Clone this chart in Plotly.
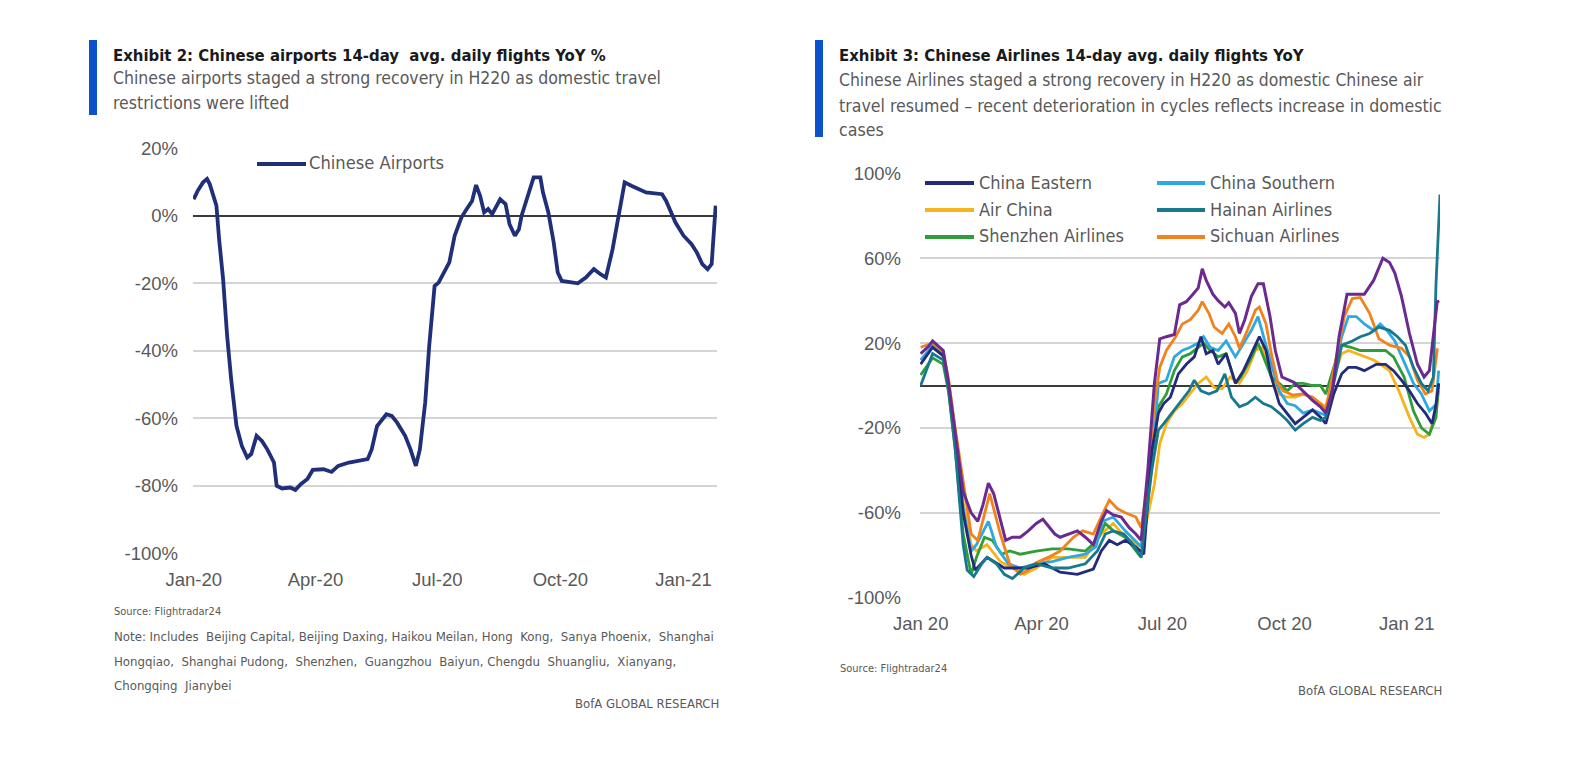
import pandas as pd
import plotly.graph_objects as go

W, H = 1570, 767
OFF = 8  # default page margin around the figure
FW, FH = W - 2 * OFF, H - 2 * OFF
START = pd.Timestamp("2020-01-01")

# ---------------- Exhibit 2 data (day offset from 1 Jan 2020, YoY %) ----------------
airports_days = [0, 3, 7, 10, 12, 14, 17, 19, 22, 25, 28, 32, 36, 40, 43, 47, 51, 55, 60, 62, 66, 72, 76, 80,
                 85, 89, 97, 103, 108, 116, 122, 130, 133, 137, 144, 148, 152, 158, 162, 166, 169, 173, 176,
                 179, 180, 183, 187, 191, 195, 200, 204, 208, 211, 214, 217, 220, 223, 226, 229, 233, 236,
                 240, 243, 245, 250, 254, 259, 261, 265, 269, 272, 275, 280, 287, 293, 299, 304, 308, 313,
                 318, 322, 327, 333, 338, 350, 353, 360, 366, 372, 376, 380, 384, 387, 389, 390]
airports_yoy = [4.9, 7.4, 9.9, 10.9, 9.4, 6.4, 3.0, -6.9, -18.8, -35.6, -48.4, -62.3, -68.2, -71.6, -70.6,
                -65.2, -66.7, -69.2, -73.1, -80.0, -80.8, -80.5, -81.2, -79.5, -78.0, -75.3, -75.1, -75.9,
                -74.1, -73.1, -72.6, -72.1, -69.2, -62.3, -58.8, -59.3, -61.3, -65.2, -69.2, -74.1, -69.2,
                -55.3, -38.5, -25.7, -20.8, -19.8, -16.8, -13.8, -5.9, -0.5, 2.0, 4.4, 9.1, 5.9, 1.0, 2.0,
                0.5, 2.5, 4.9, 3.5, -2.5, -5.9, -4.0, 0.0, 5.9, 11.4, 11.4, 6.9, 1.0, -7.9, -16.8, -19.3,
                -19.6, -20.0, -18.3, -15.8, -17.3, -18.3, -9.9, 1.0, 9.9, 8.9, 7.9, 6.9, 6.4, 4.4, -2.0,
                -5.9, -8.4, -10.9, -14.3, -15.8, -14.3, -4.0, 3.0]

# ---------------- Exhibit 3 data ----------------
eastern_days = [0, 9, 17, 21, 26, 32, 38, 41, 50, 63, 81, 93, 105, 118, 130, 136, 142, 148, 154, 162, 168,
                174, 179, 183, 188, 194, 200, 206, 211, 215, 220, 224, 230, 237, 243, 250, 255, 260, 264,
                270, 276, 282, 288, 295, 301, 305, 311, 317, 322, 328, 334, 343, 350, 356, 362, 368, 374,
                380, 385, 388, 390]
eastern_yoy = [10, 18, 14, 0, -25, -60, -80, -87, -81, -86, -86, -84, -88, -89, -86.5, -78, -73, -75, -73,
               -76, -79.5, -31, -13, -8.5, -5.5, 5.5, 10, 13.5, 23, 15, 16.5, 10, 15, 1, 7, 16.5, 23, 16.5,
               4, -8.5, -13, -18, -15, -11.5, -15, -18, -4, 5.5, 8.5, 8.5, 7, 10, 10, 7, 2.5, -2.5, -8.5,
               -13, -18, -9, 1]

southern_days = [0, 9, 17, 21, 26, 32, 38, 42, 51, 57, 66, 75, 87, 99, 111, 124, 132, 137, 145, 154, 166,
                 176, 179, 185, 191, 197, 203, 209, 213, 218, 224, 230, 237, 243, 249, 254, 258, 264, 270,
                 276, 282, 288, 295, 301, 305, 311, 317, 322, 328, 334, 341, 346, 351, 357, 365, 371, 377,
                 383, 388, 390]
southern_yoy = [12, 19, 15, 2, -22, -58, -78, -75, -64, -76, -84, -86, -84, -83, -81, -79.5, -76, -64, -62,
                -68.5, -76, -23, 1, 2.5, 13.5, 16.5, 18, 20, 23, 18, 16.5, 21, 13.5, 20, 26, 32.5, 23, 10,
                -2.5, -8.5, -9.5, -13, -11.5, -13, -14, 4, 23, 32.5, 32.5, 29, 26, 29, 26, 21, 10, 1, -4,
                -12, -9, 7]

airchina_days = [0, 9, 17, 21, 26, 32, 38, 42, 50, 60, 69, 78, 87, 99, 111, 124, 136, 145, 154, 166, 176,
                 180, 185, 191, 197, 203, 209, 215, 221, 227, 233, 240, 246, 252, 257, 263, 269, 276, 282,
                 288, 295, 301, 305, 311, 317, 322, 328, 334, 341, 346, 353, 360, 368, 374, 379, 383, 388,
                 390]
airchina_yoy = [12, 18, 14, 0, -25, -55, -75, -78, -75, -83, -86, -89, -86, -81, -81, -81, -70, -65, -71.5,
                -76, -46.5, -27.5, -18, -12, -8.5, -4, 1, 4, -1, -1.5, 4, 1, 7, 16.5, 18, 7, -4, -5.5, -5.5,
                -4, -5.5, -8.5, -10, 4, 15, 16.5, 15, 13.5, 12, 10, 7, -2.5, -15, -23, -24.5, -23, -12, -2.5]

hainan_days = [0, 5, 9, 17, 21, 26, 32, 35, 40, 46, 50, 57, 63, 69, 78, 87, 99, 111, 124, 133, 139, 145,
               153, 160, 166, 174, 179, 183, 189, 195, 202, 206, 211, 217, 223, 229, 234, 240, 246, 252,
               258, 264, 270, 276, 282, 288, 295, 301, 305, 311, 317, 325, 331, 338, 345, 353, 359, 365,
               371, 377, 382, 386, 388, 391]
hainan_yoy = [0, 8, 15, 12, -2, -30, -75, -87, -90, -84, -81, -84, -89, -91, -86, -84, -86, -86, -84, -78,
              -70, -68.5, -70, -75, -81, -40, -21, -18, -13, -8.5, -2.5, 2.5, -2.5, -4, -2.5, 5.5, -5.5,
              -10, -8.5, -5.5, -8.5, -10, -13, -16.5, -21, -18, -15, -16.5, -15, 1, 19, 21, 23, 24.5, 27.5,
              26, 23, 19, 8.5, 1, -2.5, 4, 48, 90]

shenzhen_days = [0, 9, 17, 21, 26, 32, 38, 42, 48, 54, 61, 67, 75, 87, 99, 111, 124, 133, 139, 145, 154,
                 166, 174, 179, 185, 191, 197, 203, 209, 213, 218, 224, 230, 237, 241, 248, 254, 258, 264,
                 270, 276, 282, 288, 295, 301, 305, 311, 317, 324, 331, 341, 350, 356, 364, 371, 377, 383,
                 388, 390]
shenzhen_yoy = [5, 13, 10, -3, -30, -70, -89, -81, -71.5, -73, -79.5, -78, -79.5, -78, -77, -77, -78, -73,
                -65, -68.5, -71.5, -81, -38, -10, -4, 7, 13.5, 15, 18, 20, 16.5, 13.5, 15, 1, 4, 12, 20,
                13.5, 4, 1, -2.5, 1, 1, 0, 0, -4, 8.5, 19, 18, 16.5, 16.5, 16.5, 13.5, 4, -12, -20, -23,
                -15, 1]

sichuan_days = [0, 9, 17, 21, 26, 32, 38, 43, 52, 60, 67, 75, 81, 87, 96, 105, 115, 122, 130, 137, 142, 148,
                154, 162, 166, 171, 176, 180, 185, 192, 197, 203, 209, 212, 217, 221, 227, 232, 237, 240,
                246, 252, 255, 260, 264, 269, 273, 280, 287, 295, 301, 305, 313, 319, 325, 331, 338, 345,
                353, 362, 368, 374, 380, 385, 389]
sichuan_yoy = [18, 20, 16, 3, -20, -45, -70, -73, -51, -70, -84, -89, -87, -83.5, -81, -78, -71.5, -68.5,
               -70, -60.5, -54, -58, -60, -62, -67, -46.5, -8.5, 8.5, 16.5, 23, 29, 31, 35.5, 39.5, 34, 27.5,
               24.5, 29, 23, 17.5, 26, 35.5, 37, 29, 15, 1, -2.5, -4.5, -4, -5.5, -8.5, -11.5, 13.5, 32.5,
               41, 41.5, 34, 22, 19, 17.5, 13.5, 2.5, -4, -2.5, 17.5]

other_days = [0, 6, 9, 13, 17, 21, 26, 32, 38, 43, 47, 51, 55, 60, 64, 69, 75, 81, 87, 92, 96, 101, 105, 111,
              118, 124, 130, 136, 140, 145, 151, 157, 162, 166, 171, 176, 180, 185, 191, 195, 200, 205, 209,
              212, 215, 220, 224, 229, 232, 237, 240, 244, 249, 254, 258, 263, 267, 272, 276, 281, 286, 290,
              295, 301, 305, 310, 315, 321, 327, 334, 341, 348, 353, 357, 362, 368, 374, 379, 383, 386, 389,
              390]
other_yoy = [15, 18.5, 21, 18.5, 16.5, 1, -23, -50, -60, -64, -56, -46, -51, -64, -73, -71.5, -71.5, -68.5,
             -65, -63, -66, -70, -71.5, -70, -68.5, -71.5, -75, -64, -59, -61, -62, -67, -70, -73, -40, 1, 22,
             23, 24, 38, 39.5, 43, 46, 55, 49.5, 43, 40, 37, 39, 34, 24.5, 31, 42, 48, 48, 32.5, 16.5, 4, 3,
             1.5, -1.5, -4, -7, -10, -13, -2.5, 23, 43, 43, 43, 49.5, 60, 58, 53, 42, 24.5, 10, 4, 7, 23, 40,
             39]

airline_names = ["China Eastern", "China Southern", "Air China", "Hainan Airlines",
                 "Shenzhen Airlines", "Sichuan Airlines"]
airline_colors = ["#232a7a", "#2ea8e0", "#f6b31c", "#17798b", "#2f9e3a", "#f0831e"]
other_color = "#6b2a8e"

left_ticks = [20, 0, -20, -40, -60, -80, -100]
right_ticks = [100, 60, 20, -20, -60, -100]
tick_dates = ["2020-01-01", "2020-04-01", "2020-07-01", "2020-10-01", "2021-01-01"]
left_tick_text = ["Jan-20", "Apr-20", "Jul-20", "Oct-20", "Jan-21"]
right_tick_text = ["Jan 20", "Apr 20", "Jul 20", "Oct 20", "Jan 21"]


def to_dates(days):
    return [START + pd.Timedelta(days=d) for d in days]


NARROW = "Liberation Sans Narrow, DejaVu Sans Condensed, Arial Narrow, sans-serif"
REG = "Liberation Sans, Arial, sans-serif"
GRAY_TXT = "#595959"

fig = go.Figure()

fig.add_trace(go.Scatter(x=to_dates(airports_days), y=airports_yoy, mode="lines",
                         line=dict(color="#1f2f78", width=3.8), name="Chinese Airports",
                         showlegend=False, xaxis="x", yaxis="y"))

right_series = [
    (airchina_days, airchina_yoy, 2),
    (shenzhen_days, shenzhen_yoy, 4),
    (southern_days, southern_yoy, 1),
    (sichuan_days, sichuan_yoy, 5),
    (eastern_days, eastern_yoy, 0),
    (hainan_days, hainan_yoy, 3),
]
for d, v, i in right_series:
    fig.add_trace(go.Scatter(x=to_dates(d), y=v, mode="lines",
                             line=dict(color=airline_colors[i], width=2.8),
                             name=airline_names[i], showlegend=False, xaxis="x2", yaxis="y2"))
fig.add_trace(go.Scatter(x=to_dates(other_days), y=other_yoy, mode="lines",
                         line=dict(color=other_color, width=3), name="Other",
                         showlegend=False, xaxis="x2", yaxis="y2"))


def px(x):
    return (x - OFF) / FW


def py(y):
    return 1 - (y - OFF) / FH


xrange_ = ["2019-12-31 12:00", "2021-01-26"]
common_x = dict(type="date", range=xrange_, tickvals=tick_dates, showgrid=False, showline=False,
                zeroline=False, ticks="", tickfont=dict(family=REG, size=18.5, color=GRAY_TXT),
                ticklabelstandoff=13, automargin=False)
common_y = dict(showgrid=True, gridcolor="#d4d4d4", gridwidth=1.6, zeroline=True,
                zerolinecolor="#3a3a3a", zerolinewidth=1.6, showline=False, ticks="",
                tickfont=dict(family=REG, size=18.5, color=GRAY_TXT), ticklabelstandoff=14,
                automargin=False)

fig.update_layout(
    width=FW, height=FH, margin=dict(l=0, r=0, t=0, b=0, pad=0, autoexpand=False),
    paper_bgcolor="white", plot_bgcolor="white", showlegend=False,
    xaxis=dict(common_x, domain=[px(193), px(717)], ticktext=left_tick_text, anchor="y"),
    yaxis=dict(common_y, domain=[py(553.3), py(148.3)], range=[-100, 20], tickvals=left_ticks,
               ticktext=[f"{t}%" for t in left_ticks], anchor="x"),
    xaxis2=dict(common_x, domain=[px(920), px(1440)], ticktext=right_tick_text, anchor="y2"),
    yaxis2=dict(common_y, domain=[py(597.7), py(173.3)], range=[-100, 100], tickvals=right_ticks,
                ticktext=[f"{t}%" for t in right_ticks], anchor="x2", ticklabelstandoff=18),
)

shapes = []
annotations = []


def text(x, y, s, size, color="#333333", family=NARROW, anchor="left", bold=False):
    annotations.append(dict(xref="paper", yref="paper", x=px(x), y=py(y), text=f"<b>{s}</b>" if bold else s,
                            showarrow=False, xanchor=anchor, yanchor="middle",
                            font=dict(family=family, size=size, color=color)))


# blue accent bars
shapes.append(dict(type="rect", xref="paper", yref="paper", x0=px(89), x1=px(97), y0=py(115), y1=py(40),
                   fillcolor="#0b52cc", line=dict(width=0)))
shapes.append(dict(type="rect", xref="paper", yref="paper", x0=px(815), x1=px(823), y0=py(137), y1=py(40),
                   fillcolor="#0b52cc", line=dict(width=0)))

# Exhibit 2 texts
text(111, 55, "Exhibit 2: Chinese airports 14-day  avg. daily flights YoY %", 16.6, "#1a1a1a", bold=True)
text(111, 78, "Chinese airports staged a strong recovery in H220 as domestic travel", 17.5, GRAY_TXT)
text(111, 103, "restrictions were lifted", 17.5, GRAY_TXT)
text(112, 611, "Source: Flightradar24", 11, GRAY_TXT)
text(112, 636, "Note: Includes  Beijing Capital, Beijing Daxing, Haikou Meilan, Hong  Kong,  Sanya Phoenix,  Shanghai",
     13.1, GRAY_TXT)
text(112, 661, "Hongqiao,  Shanghai Pudong,  Shenzhen,  Guangzhou  Baiyun, Chengdu  Shuangliu,  Xianyang,",
     13.1, GRAY_TXT)
text(112, 685, "Chongqing  Jianybei", 13.1, GRAY_TXT)
text(721, 703, "BofA GLOBAL RESEARCH", 13, GRAY_TXT, anchor="right")

# Exhibit 2 legend
shapes.append(dict(type="line", xref="paper", yref="paper", x0=px(257), x1=px(306), y0=py(164), y1=py(164),
                   line=dict(color="#1f2f78", width=4)))
text(307, 163, "Chinese Airports", 18.2, GRAY_TXT)

# Exhibit 3 texts
text(837, 55, "Exhibit 3: Chinese Airlines 14-day avg. daily flights YoY", 16.6, "#1a1a1a", bold=True)
text(837, 80, "Chinese Airlines staged a strong recovery in H220 as domestic Chinese air", 17.4, GRAY_TXT)
text(837, 106, "travel resumed \u2013 recent deterioration in cycles reflects increase in domestic", 17.6, GRAY_TXT)
text(837, 130, "cases", 17.6, GRAY_TXT)
text(838, 668, "Source: Flightradar24", 11, GRAY_TXT)
text(1444, 690, "BofA GLOBAL RESEARCH", 13, GRAY_TXT, anchor="right")

# Exhibit 3 legend (2 columns x 3 rows)
legend_order = [0, 1, 2, 3, 4, 5]
col_x = [(925, 974, 977), (1157, 1205, 1208)]
row_y = [183, 210, 237]
for k, i in enumerate(legend_order):
    cx = col_x[k % 2]
    ry = row_y[k // 2]
    shapes.append(dict(type="line", xref="paper", yref="paper", x0=px(cx[0]), x1=px(cx[1]),
                       y0=py(ry), y1=py(ry), line=dict(color=airline_colors[i], width=4)))
    text(cx[2], ry - 1, airline_names[i], 18, GRAY_TXT)

fig.update_layout(shapes=shapes, annotations=annotations)
fig.write_html("out.html")
